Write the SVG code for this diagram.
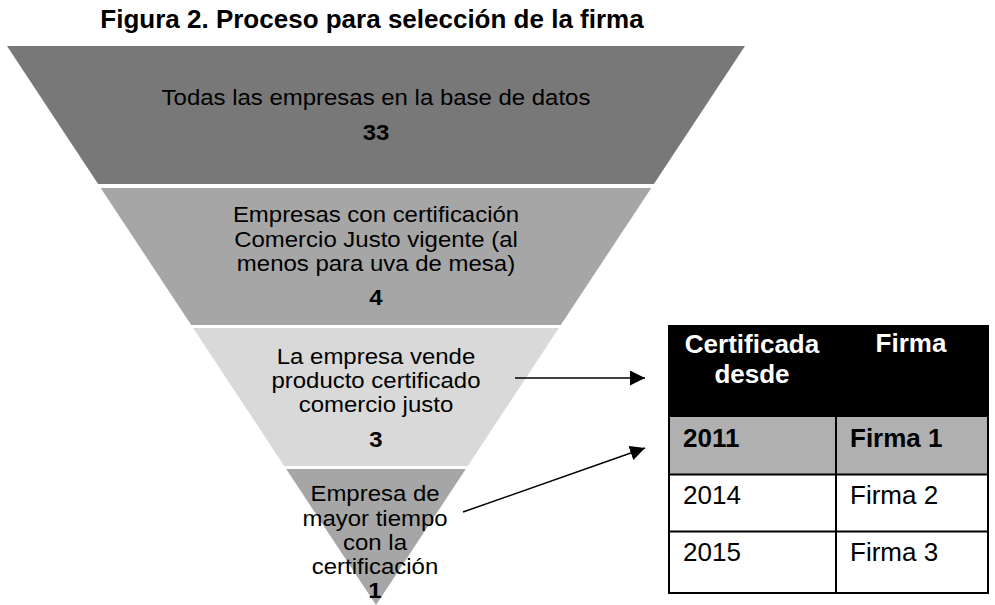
<svg xmlns="http://www.w3.org/2000/svg" width="995" height="605" viewBox="0 0 995 605">
<style>
  text { font-family: "Liberation Sans", Arial, sans-serif; fill: #000; }
  .title { font-size: 26px; font-weight: bold; }
  .body { font-size: 22.5px; text-anchor: middle; }
  .num { font-size: 22.5px; font-weight: bold; text-anchor: middle; }
  .th { font-size: 26px; font-weight: bold; fill: #fff; text-anchor: middle; }
  .td { font-size: 26px; }
  .tdb { font-size: 26px; font-weight: bold; }
  .conn { stroke: #000; stroke-width: 1.5; fill: none; }
</style>
<defs>
  <marker id="arrow" markerUnits="userSpaceOnUse" markerWidth="16" markerHeight="15" refX="15" refY="7.5" orient="auto">
    <path d="M0,0 L15,7.5 L0,15 z" fill="#000"/>
  </marker>
</defs>
<rect width="995" height="605" fill="#fff"/>
<text class="title" x="372" y="28" text-anchor="middle">Figura 2. Proceso para selección de la firma</text>

<g id="band1">
  <polygon points="7,46 745,46 653.9,184 98.1,184" fill="#787878"/>
  <text class="body" transform="translate(376 105) scale(1.065 1)">Todas las empresas en la base de datos</text>
  <text class="num" transform="translate(376 140) scale(1.065 1)">33</text>
</g>
<g id="band2">
  <polygon points="100.7,188 651.3,188 560.8,325 191.2,325" fill="#a6a6a6"/>
  <text class="body" transform="translate(376 221.5) scale(1.065 1)">Empresas con certificación</text>
  <text class="body" transform="translate(376 246.5) scale(1.065 1)">Comercio Justo vigente (al</text>
  <text class="body" transform="translate(376 271) scale(1.065 1)">menos para uva de mesa)</text>
  <text class="num" transform="translate(376 305) scale(1.065 1)">4</text>
</g>
<g id="band3">
  <polygon points="193.1,328 558.9,328 467.8,466 284.2,466" fill="#d9d9d9"/>
  <text class="body" transform="translate(376 364) scale(1.065 1)">La empresa vende</text>
  <text class="body" transform="translate(376 388) scale(1.065 1)">producto certificado</text>
  <text class="body" transform="translate(376 412) scale(1.065 1)">comercio justo</text>
  <text class="num" transform="translate(376 447) scale(1.065 1)">3</text>
</g>
<g id="band4">
  <polygon points="286.2,469 465.8,469 376,605" fill="#a6a6a6"/>
  <text class="body" transform="translate(375 501) scale(1.065 1)">Empresa de</text>
  <text class="body" transform="translate(375 526) scale(1.065 1)">mayor tiempo</text>
  <text class="body" transform="translate(375 550) scale(1.065 1)">con la</text>
  <text class="body" transform="translate(375 574) scale(1.065 1)">certificación</text>
  <text class="num" transform="translate(375 598) scale(1.065 1)">1</text>
</g>

<g id="table">
  <rect x="669" y="326" width="319" height="91" fill="#000"/>
  <rect x="669" y="417" width="319" height="57.5" fill="#b0b0b0"/>
  <rect x="669" y="326" width="319" height="267" fill="none" stroke="#000" stroke-width="2"/>
  <line x1="669" y1="474.5" x2="988" y2="474.5" stroke="#000" stroke-width="2"/>
  <line x1="669" y1="531.5" x2="988" y2="531.5" stroke="#000" stroke-width="2"/>
  <line x1="836" y1="417" x2="836" y2="593" stroke="#000" stroke-width="2"/>
  <text class="th" x="752" y="353">Certificada</text>
  <text class="th" x="752" y="383">desde</text>
  <text class="th" x="911" y="352">Firma</text>
  <text class="tdb" x="683" y="447">2011</text>
  <text class="tdb" x="850" y="447">Firma 1</text>
  <text class="td" x="683" y="504">2014</text>
  <text class="td" x="850" y="504">Firma 2</text>
  <text class="td" x="683" y="561">2015</text>
  <text class="td" x="850" y="561">Firma 3</text>
</g>

<g id="connectors">
  <line class="conn" x1="515" y1="378" x2="645" y2="378" marker-end="url(#arrow)"/>
  <line class="conn" x1="463" y1="512" x2="645" y2="448" marker-end="url(#arrow)"/>
</g>
</svg>
